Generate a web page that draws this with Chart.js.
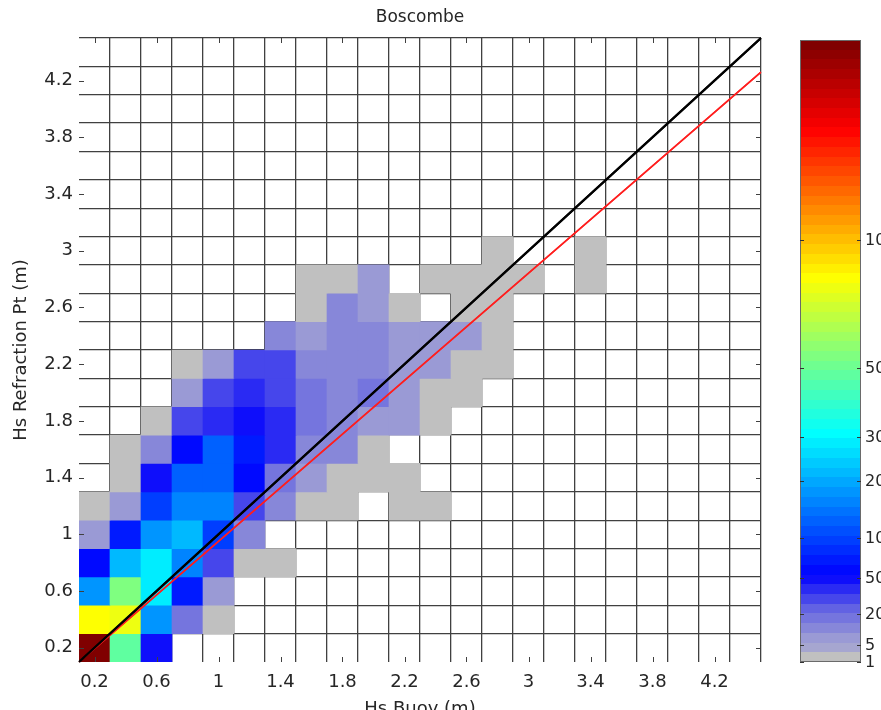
<!DOCTYPE html>
<html>
<head>
<meta charset="utf-8">
<title>Boscombe</title>
<script src="https://cdn.jsdelivr.net/npm/chart.js@4.4.1/dist/chart.umd.min.js"></script>
<style>
  html, body { margin: 0; padding: 0; background: #ffffff; }
  #wrap { width: 881px; height: 710px; }
</style>
</head>
<body>
<div id="wrap"><canvas id="chart" width="881" height="710"></canvas></div>
<script>
// ---- data -------------------------------------------------------------
const chartTitle = 'Boscombe';
const xTitle = 'Hs Buoy (m)';
const yTitle = 'Hs Refraction Pt (m)';

// bin centres (m); every bin is 0.2 m wide
const binWidth = 0.2;
const hsBuoyBins = [0.2, 0.4, 0.6, 0.8, 1.0, 1.2, 1.4, 1.6, 1.8, 2.0, 2.2, 2.4, 2.6, 2.8, 3.0, 3.2, 3.4];
const hsRefractionBins = [0.2, 0.4, 0.6, 0.8, 1.0, 1.2, 1.4, 1.6, 1.8, 2.0, 2.2, 2.4, 2.6, 2.8, 3.0];

// number of records per bin: one row per Hs Refraction bin, one column per Hs Buoy bin
const binCounts = [
  [2130, 470,  45,   0,   0,  0,  0,  0,  0,  0, 0, 0, 0, 0, 0, 0, 0], // 0.2
  [ 850, 780, 185,  17,   2,  0,  0,  0,  0,  0, 0, 0, 0, 0, 0, 0, 0], // 0.4
  [ 185, 540, 285,  76,   9,  0,  0,  0,  0,  0, 0, 0, 0, 0, 0, 0, 0], // 0.6
  [  56, 220, 280, 164,  31,  2,  2,  0,  0,  0, 0, 0, 0, 0, 0, 0, 0], // 0.8
  [   7,  76, 185, 220,  99, 11,  0,  0,  0,  0, 0, 0, 0, 0, 0, 0, 0], // 1.0
  [   2,   9,  91, 154, 154, 31, 14,  2,  2,  0, 2, 1, 0, 0, 0, 0, 0], // 1.2
  [   0,   2,  48, 125, 134, 63, 17,  9,  2,  1, 2, 0, 0, 0, 0, 0, 0], // 1.4
  [   0,   1,  11,  56, 134, 68, 37, 11, 14,  2, 0, 0, 0, 0, 0, 0, 0], // 1.6
  [   0,   0,   2,  28,  40, 50, 40, 17, 14,  7, 7, 2, 0, 0, 0, 0, 0], // 1.8
  [   0,   0,   0,   7,  28, 44, 34, 17, 11, 20, 7, 2, 1, 0, 0, 0, 0], // 2.0
  [   0,   0,   0,   2,   7, 28, 28, 11, 11, 11, 7, 7, 2, 1, 0, 0, 0], // 2.2
  [   0,   0,   0,   0,   0,  0, 11,  9, 11, 11, 7, 7, 7, 2, 0, 0, 0], // 2.4
  [   0,   0,   0,   0,   0,  0,  0,  2, 11,  7, 2, 0, 2, 1, 0, 0, 0], // 2.6
  [   0,   0,   0,   0,   0,  0,  0,  1,  2,  7, 0, 1, 2, 1, 1, 0, 1], // 2.8
  [   0,   0,   0,   0,   0,  0,  0,  0,  0,  0, 0, 0, 0, 1, 0, 0, 1]  // 3.0
];

// axis extent, labelled ticks and bin edges (m)
const axisMin = 0.1;
const axisMax = 4.5;
const tickValues = [0.2, 0.6, 1, 1.4, 1.8, 2.2, 2.6, 3, 3.4, 3.8, 4.2];
const binEdges = [0.1, 0.3, 0.5, 0.7, 0.9, 1.1, 1.3, 1.5, 1.7, 1.9, 2.1, 2.3, 2.5, 2.7, 2.9, 3.1, 3.3, 3.5, 3.7, 3.9, 4.1, 4.3, 4.5];

// 1:1 line and fitted regression line, as end points (m)
const lineEndsX = [0.1, 4.5];
const oneToOneY = [0.1, 4.5];
const fittedY = [0.1, 4.26];

// colour bar
const countMax = 2130;
const colourBarTicks = [1, 5, 20, 50, 100, 200, 300, 500, 1000];

// ---- styling ----------------------------------------------------------
const FONT = '"DejaVu Sans", "Liberation Sans", Arial, sans-serif';
const TEXT = '#262626';
const GRID = '#404040';
const LEVELS = 64;
const COLOUR_STOPS = [
  [0.000, [192, 192, 192]],
  [0.008, [192, 192, 192]],
  [0.016, [166, 166, 208]],
  [0.030, [156, 156, 212]],
  [0.078, [100, 100, 226]],
  [0.135, [0, 0, 255]],
  [0.365, [0, 255, 255]],
  [0.620, [255, 255, 0]],
  [0.860, [255, 0, 0]],
  [1.000, [128, 0, 0]]
];

function countFraction(n) {
  const t = (Math.sqrt(n) - 1) / (Math.sqrt(countMax) - 1);
  return Math.max(0, Math.min(1, t));
}

function colourAt(t) {
  const level = Math.min(LEVELS - 1, Math.floor(t * LEVELS));
  const q = level / (LEVELS - 1);
  for (let i = 1; i < COLOUR_STOPS.length; i++) {
    if (q <= COLOUR_STOPS[i][0]) {
      const [t0, c0] = COLOUR_STOPS[i - 1];
      const [t1, c1] = COLOUR_STOPS[i];
      const f = (q - t0) / (t1 - t0);
      const c = c0.map((a, k) => Math.round(a + (c1[k] - a) * f));
      return `rgb(${c[0]},${c[1]},${c[2]})`;
    }
  }
  return 'rgb(128,0,0)';
}

// one floating bar per occupied bin
const cells = [];
hsRefractionBins.forEach((yc, r) => {
  hsBuoyBins.forEach((xc, c) => {
    const n = binCounts[r][c];
    if (n > 0) cells.push({ x: xc, y: [yc - binWidth / 2, yc + binWidth / 2], n });
  });
});

// ---- plugins ----------------------------------------------------------
// short inward tick marks on all four sides of the plot frame
const frameTicks = {
  id: 'frameTicks',
  afterDraw(chart) {
    const { ctx, chartArea: a } = chart;
    const x = chart.scales.x, y = chart.scales.y;
    const len = 5;
    ctx.save();
    ctx.strokeStyle = GRID;
    ctx.lineWidth = 1;
    ctx.beginPath();
    tickValues.forEach(v => {
      const px = Math.round(x.getPixelForValue(v)) + 0.5;
      ctx.moveTo(px, a.bottom); ctx.lineTo(px, a.bottom - len);
      ctx.moveTo(px, a.top); ctx.lineTo(px, a.top + len);
      const py = Math.round(y.getPixelForValue(v)) + 0.5;
      ctx.moveTo(a.left, py); ctx.lineTo(a.left + len, py);
      ctx.moveTo(a.right, py); ctx.lineTo(a.right - len, py);
    });
    ctx.stroke();
    ctx.restore();
  }
};

// keep the two reference lines above the bin grid
const linesOnTop = {
  id: 'linesOnTop',
  afterDraw(chart) {
    const { ctx, chartArea: a } = chart;
    ctx.save();
    ctx.beginPath();
    ctx.rect(a.left - 1, a.top - 1, a.right - a.left + 2, a.bottom - a.top + 2);
    ctx.clip();
    [1, 0].forEach(i => chart.getDatasetMeta(i).controller.draw());
    ctx.restore();
  }
};

// vertical colour bar on the right (square-root count scale)
const colourBar = {
  id: 'colourBar',
  afterDraw(chart) {
    const { ctx, chartArea: a } = chart;
    const left = a.right + 39, right = left + 61;
    const top = a.top + 2, bottom = a.bottom;
    const h = bottom - top;
    ctx.save();
    for (let i = 0; i < h; i++) {
      ctx.fillStyle = colourAt((h - i - 0.5) / h);
      ctx.fillRect(left, top + i, right - left, 1);
    }
    ctx.strokeStyle = '#6a6a6a';
    ctx.lineWidth = 1;
    ctx.strokeRect(left + 0.5, top + 0.5, right - left - 1, h - 1);
    ctx.font = `16px ${FONT}`;
    ctx.fillStyle = TEXT;
    ctx.textAlign = 'left';
    ctx.textBaseline = 'middle';
    ctx.strokeStyle = '#333';
    colourBarTicks.forEach(v => {
      const py = Math.round(bottom - countFraction(v) * h) + 0.5;
      ctx.beginPath();
      ctx.moveTo(left, py); ctx.lineTo(left + 4, py);
      ctx.moveTo(right, py); ctx.lineTo(right - 4, py);
      ctx.stroke();
      ctx.fillText(String(v), right + 4, py);
    });
    ctx.restore();
  }
};

// ---- chart ------------------------------------------------------------
const hideEdge = c => (c.tick && Math.abs(c.tick.value - axisMin) < 1e-9) ? 'rgba(0,0,0,0)' : GRID;
const setTicks = values => scale => { scale.ticks = values.map(v => ({ value: v })); };
const tickText = v => String(Number(Number(v).toFixed(1)));

new Chart(document.getElementById('chart'), {
  type: 'bar',
  data: {
    datasets: [
      {
        type: 'line',
        label: '1:1',
        data: lineEndsX.map((x, i) => ({ x, y: oneToOneY[i] })),
        borderColor: '#000000',
        borderWidth: 2.2,
        pointRadius: 0,
        xAxisID: 'x', yAxisID: 'y',
        order: 0
      },
      {
        type: 'line',
        label: 'fit',
        data: lineEndsX.map((x, i) => ({ x, y: fittedY[i] })),
        borderColor: '#ff1e1e',
        borderWidth: 1.6,
        pointRadius: 0,
        xAxisID: 'x', yAxisID: 'y',
        order: 1
      },
      {
        type: 'bar',
        label: 'records',
        data: cells,
        backgroundColor: c => colourAt(countFraction(c.raw.n)),
        borderWidth: 0,
        barPercentage: 1,
        categoryPercentage: 1,
        grouped: false,
        xAxisID: 'x', yAxisID: 'y',
        order: 2
      }
    ]
  },
  options: {
    responsive: false,
    devicePixelRatio: 1,
    animation: false,
    events: [],
    layout: { padding: { left: 0, right: 120, top: 0, bottom: 0 } },
    plugins: {
      legend: { display: false },
      tooltip: { enabled: false },
      title: {
        display: true,
        text: chartTitle,
        fullSize: false,
        color: TEXT,
        font: { family: FONT, size: 17, weight: 'normal', lineHeight: 1.2 },
        padding: { top: 7, bottom: 10.6 }
      }
    },
    scales: {
      x: {
        type: 'linear', position: 'bottom', min: axisMin, max: axisMax,
        offset: false, z: 1,
        afterBuildTicks: setTicks(binEdges),
        afterFit: s => { s.height = 0; },
        grid: { color: hideEdge, lineWidth: 1.3, drawTicks: false, offset: false },
        border: { display: false },
        ticks: { display: false }
      },
      y: {
        type: 'linear', position: 'left', min: axisMin, max: axisMax,
        z: 1,
        afterBuildTicks: setTicks(binEdges),
        afterFit: s => { s.width = 0; },
        grid: { color: hideEdge, lineWidth: 1.3, drawTicks: false },
        border: { display: false },
        ticks: { display: false }
      },
      xl: {
        type: 'linear', position: 'bottom', min: axisMin, max: axisMax,
        offset: false,
        afterBuildTicks: setTicks(tickValues),
        afterFit: s => { s.height = 48; },
        grid: { display: false, drawTicks: false, offset: false },
        border: { display: false },
        ticks: { color: TEXT, padding: 10, maxRotation: 0, autoSkip: false, font: { family: FONT, size: 18 }, callback: tickText },
        title: { display: true, text: xTitle, color: TEXT, font: { family: FONT, size: 18 }, padding: { top: 0, bottom: -10 } }
      },
      yl: {
        type: 'linear', position: 'left', min: axisMin, max: axisMax,
        afterBuildTicks: setTicks(tickValues),
        afterFit: s => { s.width = 79; },
        grid: { display: false, drawTicks: false },
        border: { display: false },
        ticks: { color: TEXT, padding: 6, autoSkip: false, font: { family: FONT, size: 18 }, callback: tickText },
        title: { display: true, text: yTitle, color: TEXT, font: { family: FONT, size: 18 }, padding: { top: 11, bottom: 0 } }
      }
    }
  },
  plugins: [linesOnTop, frameTicks, colourBar]
});
</script>
</body>
</html>
